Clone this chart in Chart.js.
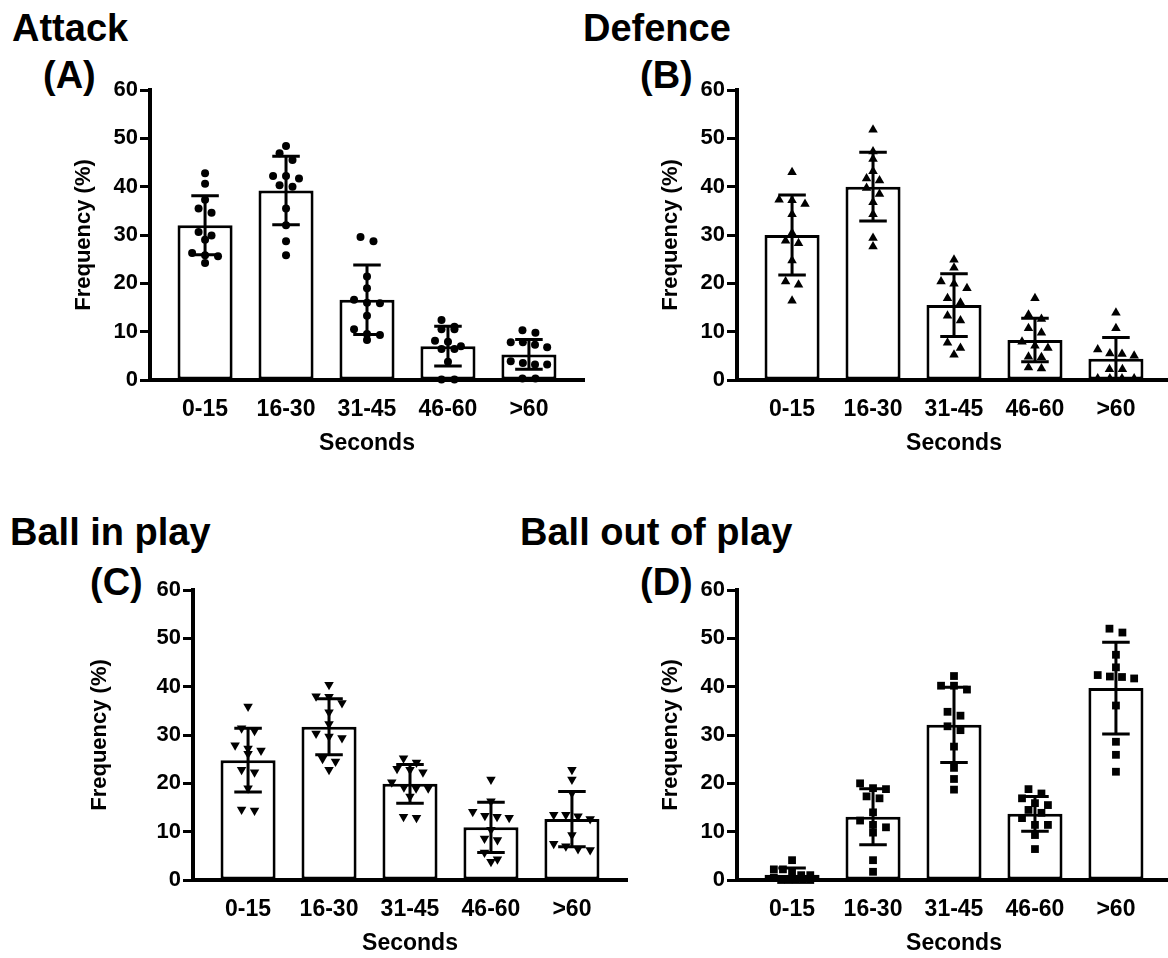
<!DOCTYPE html>
<html>
<head>
<meta charset="utf-8">
<script src="https://cdn.jsdelivr.net/npm/chart.js@4"></script>
<style>
    body { margin: 0; width: 1168px; height: 958px; overflow: hidden; background: #fff; position: relative; }
    canvas { position: absolute; }
    .title { position: absolute; font: bold 38px 'Liberation Sans', Arial, sans-serif; line-height: 38px; white-space: nowrap; color: #000; }
</style>
</head>
<body>
<div class="title" style="left:12px; top:9px;">Attack</div>
<div class="title" style="left:43px; top:56px;">(A)</div>
<div class="title" style="left:583px; top:9px;">Defence</div>
<div class="title" style="left:640px; top:56px;">(B)</div>
<div class="title" style="left:10px; top:513px;">Ball in play</div>
<div class="title" style="left:90px; top:563px;">(C)</div>
<div class="title" style="left:520px; top:513px;">Ball out of play</div>
<div class="title" style="left:640px; top:563px;">(D)</div>

<canvas id="attackChart" width="600" height="410" style="left:0px; top:60px;"></canvas>
<canvas id="defenceChart" width="600" height="410" style="left:587px; top:60px;"></canvas>
<canvas id="inPlayChart" width="600" height="410" style="left:43px; top:560px;"></canvas>
<canvas id="outPlayChart" width="600" height="410" style="left:587px; top:560px;"></canvas>

<script>
const categories = ['0-15', '16-30', '31-45', '46-60', '>60'];

// bar heights (mean) and error bars (SD)
const attackMean = [32.0, 39.2, 16.6, 7.0, 5.3];
const attackSD = [6.1, 7.1, 7.2, 4.1, 3.1];
const defenceMean = [30.0, 40.0, 15.5, 8.3, 4.4];
const defenceSD = [8.3, 7.1, 6.5, 4.5, 4.4];
const inPlayMean = [24.8, 31.7, 19.9, 10.9, 12.6];
const inPlaySD = [6.6, 5.8, 4.0, 5.2, 5.7];
const outPlayMean = [1.1, 13.1, 32.1, 13.7, 39.7];
const outPlaySD = [1.4, 5.8, 7.8, 3.6, 9.5];

// individual values per category
const attackPoints = [
    [42.8, 40.6, 37.3, 35.5, 34.6, 30.6, 29.9, 29.0, 26.3, 25.8, 25.6, 24.2],
    [48.4, 46.9, 45.5, 42.2, 42.2, 41.7, 40.3, 40.0, 35.5, 32.0, 28.7, 25.8],
    [29.6, 28.7, 21.4, 19.0, 16.6, 16.0, 15.9, 13.3, 10.5, 9.5, 9.3, 8.3],
    [12.4, 11.0, 10.5, 10.5, 8.1, 7.9, 7.0, 6.4, 6.4, 3.8, 0.1, 0.1],
    [10.3, 9.8, 7.8, 7.8, 7.3, 6.8, 3.9, 3.5, 3.2, 3.2, 0.3, 0.3]
];
const defencePoints = [
    [43.0, 37.3, 37.2, 36.4, 34.3, 30.4, 28.8, 28.3, 24.7, 20.4, 19.7, 16.4],
    [51.8, 47.3, 45.7, 43.2, 41.7, 41.3, 39.7, 38.5, 36.8, 34.3, 29.4, 27.6],
    [24.9, 23.2, 20.4, 19.9, 19.0, 16.9, 16.0, 13.3, 12.3, 7.7, 6.6, 5.2],
    [16.9, 13.5, 12.6, 10.7, 9.8, 7.9, 7.1, 6.6, 4.8, 4.7, 2.6, 2.4],
    [13.9, 10.7, 6.3, 5.5, 5.4, 5.0, 2.2, 2.2, 0.3, 0.3, 0.3, 0.3]
];
const inPlayPoints = [
    [35.9, 31.4, 30.9, 27.9, 27.2, 26.8, 26.1, 22.8, 22.3, 19.0, 14.6, 14.4],
    [40.4, 38.0, 37.9, 36.6, 34.7, 32.3, 30.3, 29.7, 29.4, 25.1, 24.5, 22.8],
    [25.2, 24.3, 23.0, 22.8, 22.3, 20.2, 19.2, 19.0, 19.0, 17.3, 13.1, 12.9],
    [20.8, 16.3, 14.1, 13.3, 13.1, 12.9, 10.4, 8.6, 8.3, 5.7, 4.3, 3.8],
    [22.8, 20.8, 18.0, 13.5, 13.5, 13.2, 12.6, 9.3, 7.5, 7.0, 6.4, 6.2]
];
const outPlayPoints = [
    [4.1, 2.2, 2.2, 1.7, 1.0, 1.0, 0.5, 0, 0, 0, 0, 0],
    [20.0, 19.0, 18.8, 17.3, 16.9, 14.0, 12.3, 11.4, 10.9, 9.8, 4.1, 1.7],
    [42.2, 40.2, 40.2, 39.4, 34.8, 34.0, 31.8, 31.0, 27.6, 23.2, 20.9, 18.7],
    [18.8, 17.9, 16.9, 15.9, 15.5, 14.5, 13.9, 12.8, 11.4, 11.4, 9.3, 6.4],
    [52.0, 51.2, 46.6, 44.0, 42.4, 42.1, 42.0, 41.7, 36.1, 28.6, 25.9, 22.4]
];

Chart.defaults.font.family = "'Liberation Sans', Arial, sans-serif";
Chart.defaults.font.weight = 'bold';
Chart.defaults.color = '#000';

const ROW_GAP = 1.5;   // values closer than this share a row
const DOT_STEP = 0.16; // horizontal spacing in category units
const MAX_ROW = 0.45;
const CAP = 0.17;      // half width of error bar caps

// simple column-scatter layout: spread close values sideways
function spread(values, center) {
    const sorted = values.slice().sort((a, b) => b - a);
    const rows = [];
    sorted.forEach(v => {
        const row = rows[rows.length - 1];
        if (row && row[0] - v < ROW_GAP) row.push(v);
        else rows.push([v]);
    });
    const pts = [];
    rows.forEach(row => {
        const step = Math.min(DOT_STEP, MAX_ROW / Math.max(row.length - 1, 1));
        row.forEach((v, i) => pts.push({ x: center + (i - (row.length - 1) / 2) * step, y: v }));
    });
    return pts;
}

const errorBars = {
    id: 'errorBars',
    afterDatasetsDraw(chart, args, opts) {
        const { ctx, scales: { x, y } } = chart;
        ctx.save();
        ctx.strokeStyle = '#000';
        ctx.lineWidth = 3;
        opts.mean.forEach((m, i) => {
            const px = x.getPixelForValue(i + 1);
            const hw = x.getPixelForValue(i + 1 + CAP) - px;
            const top = y.getPixelForValue(m + opts.sd[i]);
            const low = m - opts.sd[i];
            const bot = y.getPixelForValue(Math.max(low, 0));
            ctx.beginPath();
            ctx.moveTo(px, top); ctx.lineTo(px, bot);
            ctx.moveTo(px - hw, top); ctx.lineTo(px + hw, top);
            if (low > 0) { ctx.moveTo(px - hw, bot); ctx.lineTo(px + hw, bot); }
            ctx.stroke();
        });
        ctx.restore();
    }
};

function makeChart(id, mean, sd, points, style, rotation, radius, yTitlePad) {
    const scatter = [];
    points.forEach((vals, i) => spread(vals, i + 1).forEach(p => scatter.push(p)));
    return new Chart(document.getElementById(id), {
        type: 'bar',
        data: {
            datasets: [
                {
                    type: 'scatter',
                    data: scatter,
                    pointStyle: style,
                    rotation: rotation,
                    pointRadius: radius,
                    backgroundColor: '#000',
                    borderColor: '#000',
                    borderWidth: 0,
                    clip: false,
                    order: 1
                },
                {
                    data: mean.map((m, i) => ({ x: i + 1, y: m })),
                    backgroundColor: '#fff',
                    borderColor: '#000',
                    borderWidth: 3,
                    borderSkipped: false,
                    barPercentage: 0.68,
                    categoryPercentage: 1,
                    order: 2
                }
            ]
        },
        options: {
            responsive: false,
            animation: false,
            events: [],
            layout: { padding: { left: 0, top: 30, right: 16, bottom: 0 } },
            plugins: {
                legend: { display: false },
                tooltip: { enabled: false },
                errorBars: { mean: mean, sd: sd }
            },
            scales: {
                x: {
                    type: 'linear',
                    offset: false,
                    min: 0.32,
                    max: 5.68,
                    afterBuildTicks: scale => { scale.ticks = categories.map((c, i) => ({ value: i + 1 })); },
                    afterFit: scale => { scale.height = 90; },
                    ticks: {
                        callback: v => categories[v - 1],
                        font: { size: 23 },
                        padding: 8,
                        maxRotation: 0,
                        autoSkip: false
                    },
                    grid: { display: false },
                    border: { display: true, color: '#000', width: 4 },
                    title: { display: true, text: 'Seconds', font: { size: 23 }, padding: { top: 0, bottom: 13 } }
                },
                y: {
                    min: 0,
                    max: 60,
                    afterFit: scale => { scale.width = 150; },
                    ticks: { stepSize: 10, font: { size: 22 }, padding: 2 },
                    grid: { drawOnChartArea: false, drawTicks: true, tickLength: 10, tickColor: '#000', tickWidth: 3 },
                    border: { display: true, color: '#000', width: 4 },
                    title: { display: true, text: 'Frequency (%)', font: { size: 22 }, padding: { top: yTitlePad, bottom: 0 } }
                }
            }
        },
        plugins: [errorBars]
    });
}

makeChart('attackChart', attackMean, attackSD, attackPoints, 'circle', 0, 4, 71);
makeChart('defenceChart', defenceMean, defenceSD, defencePoints, 'triangle', 0, 5.5, 71);
makeChart('inPlayChart', inPlayMean, inPlaySD, inPlayPoints, 'triangle', 180, 5.5, 44);
makeChart('outPlayChart', outPlayMean, outPlaySD, outPlayPoints, 'rect', 0, 5.5, 71);
</script>
</body>
</html>
